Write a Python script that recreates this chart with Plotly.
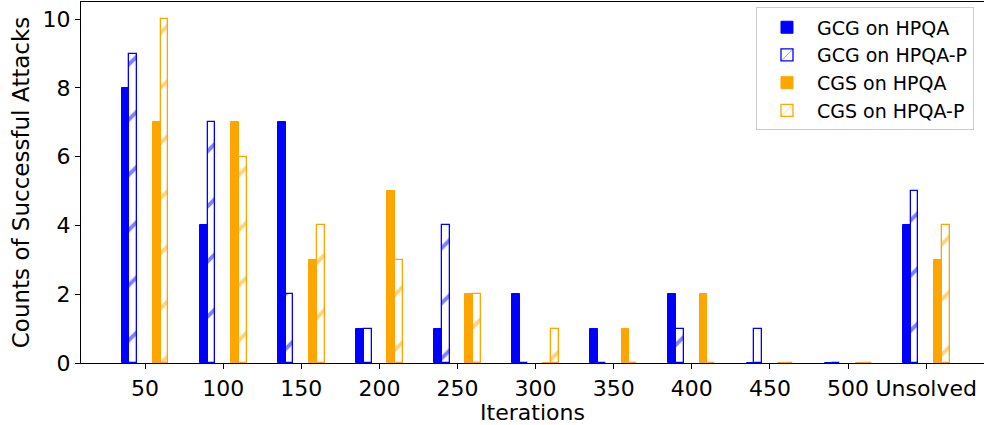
import plotly.graph_objects as go

categories = ["50", "100", "150", "200", "250", "300", "350", "400", "450", "500", "Unsolved"]
gcg_hpqa = [8, 4, 7, 1, 1, 2, 1, 2, 0, 0, 4]
gcg_hpqa_p = [9, 7, 2, 1, 4, 0, 0, 1, 1, 0, 5]
cgs_hpqa = [7, 7, 3, 5, 2, 0, 1, 2, 0, 0, 3]
cgs_hpqa_p = [10, 6, 4, 3, 2, 1, 0, 0, 0, 0, 4]

BLUE = "#0000ff"
ORANGE = "#ffa500"
idx = list(range(len(categories)))
W = 0.1

series = [
    ("GCG on HPQA", gcg_hpqa, BLUE, False, -0.25),
    ("GCG on HPQA-P", gcg_hpqa_p, BLUE, True, -0.15),
    ("CGS on HPQA", cgs_hpqa, ORANGE, False, 0.15),
    ("CGS on HPQA-P", cgs_hpqa_p, ORANGE, True, 0.25),
]

fig = go.Figure()
for name, vals, col, hatch, off in series:
    if hatch:
        marker = dict(color="white", line=dict(color=col, width=1.3),
                      pattern=dict(shape="/", fgcolor=col, bgcolor="white", size=39, solidity=0.1))
    else:
        marker = dict(color=col, line=dict(color=col, width=1))
    fig.add_trace(go.Bar(x=[i + off for i in idx], y=vals, width=W, name=name, marker=marker))

fig.update_layout(
    width=984, height=425,
    margin=dict(l=81, r=0, t=2, b=62),
    plot_bgcolor="white", paper_bgcolor="white",
    barmode="overlay", bargap=0,
    font=dict(family="DejaVu Sans", size=22, color="black"),
    showlegend=True,
    legend=dict(x=0.7475, y=0.985, xanchor="left", yanchor="top",
                bgcolor="white", bordercolor="#cccccc", borderwidth=1,
                font=dict(size=19), tracegroupgap=0, itemwidth=50),
)
fig.update_xaxes(
    range=[-0.82, 10.74], tickmode="array", tickvals=idx, ticktext=categories,
    showline=True, linecolor="black", linewidth=1.2, mirror=True, automargin=False,
    ticks="outside", ticklen=5, tickcolor="black", showgrid=False, zeroline=False,
    title=dict(text="Iterations", standoff=2, font=dict(size=22)),
)
fig.update_yaxes(
    range=[0, 10.5], tickvals=[0, 2, 4, 6, 8, 10], automargin=False,
    showline=True, linecolor="black", linewidth=1.2, mirror=False,
    ticks="outside", ticklen=5, tickcolor="black", showgrid=False, zeroline=False,
    title=dict(text="Counts of Successful Attacks", standoff=6, font=dict(size=23)),
)
fig.write_html("out.html", config={"displayModeBar": False},
               post_script="document.body.style.margin='0';")
